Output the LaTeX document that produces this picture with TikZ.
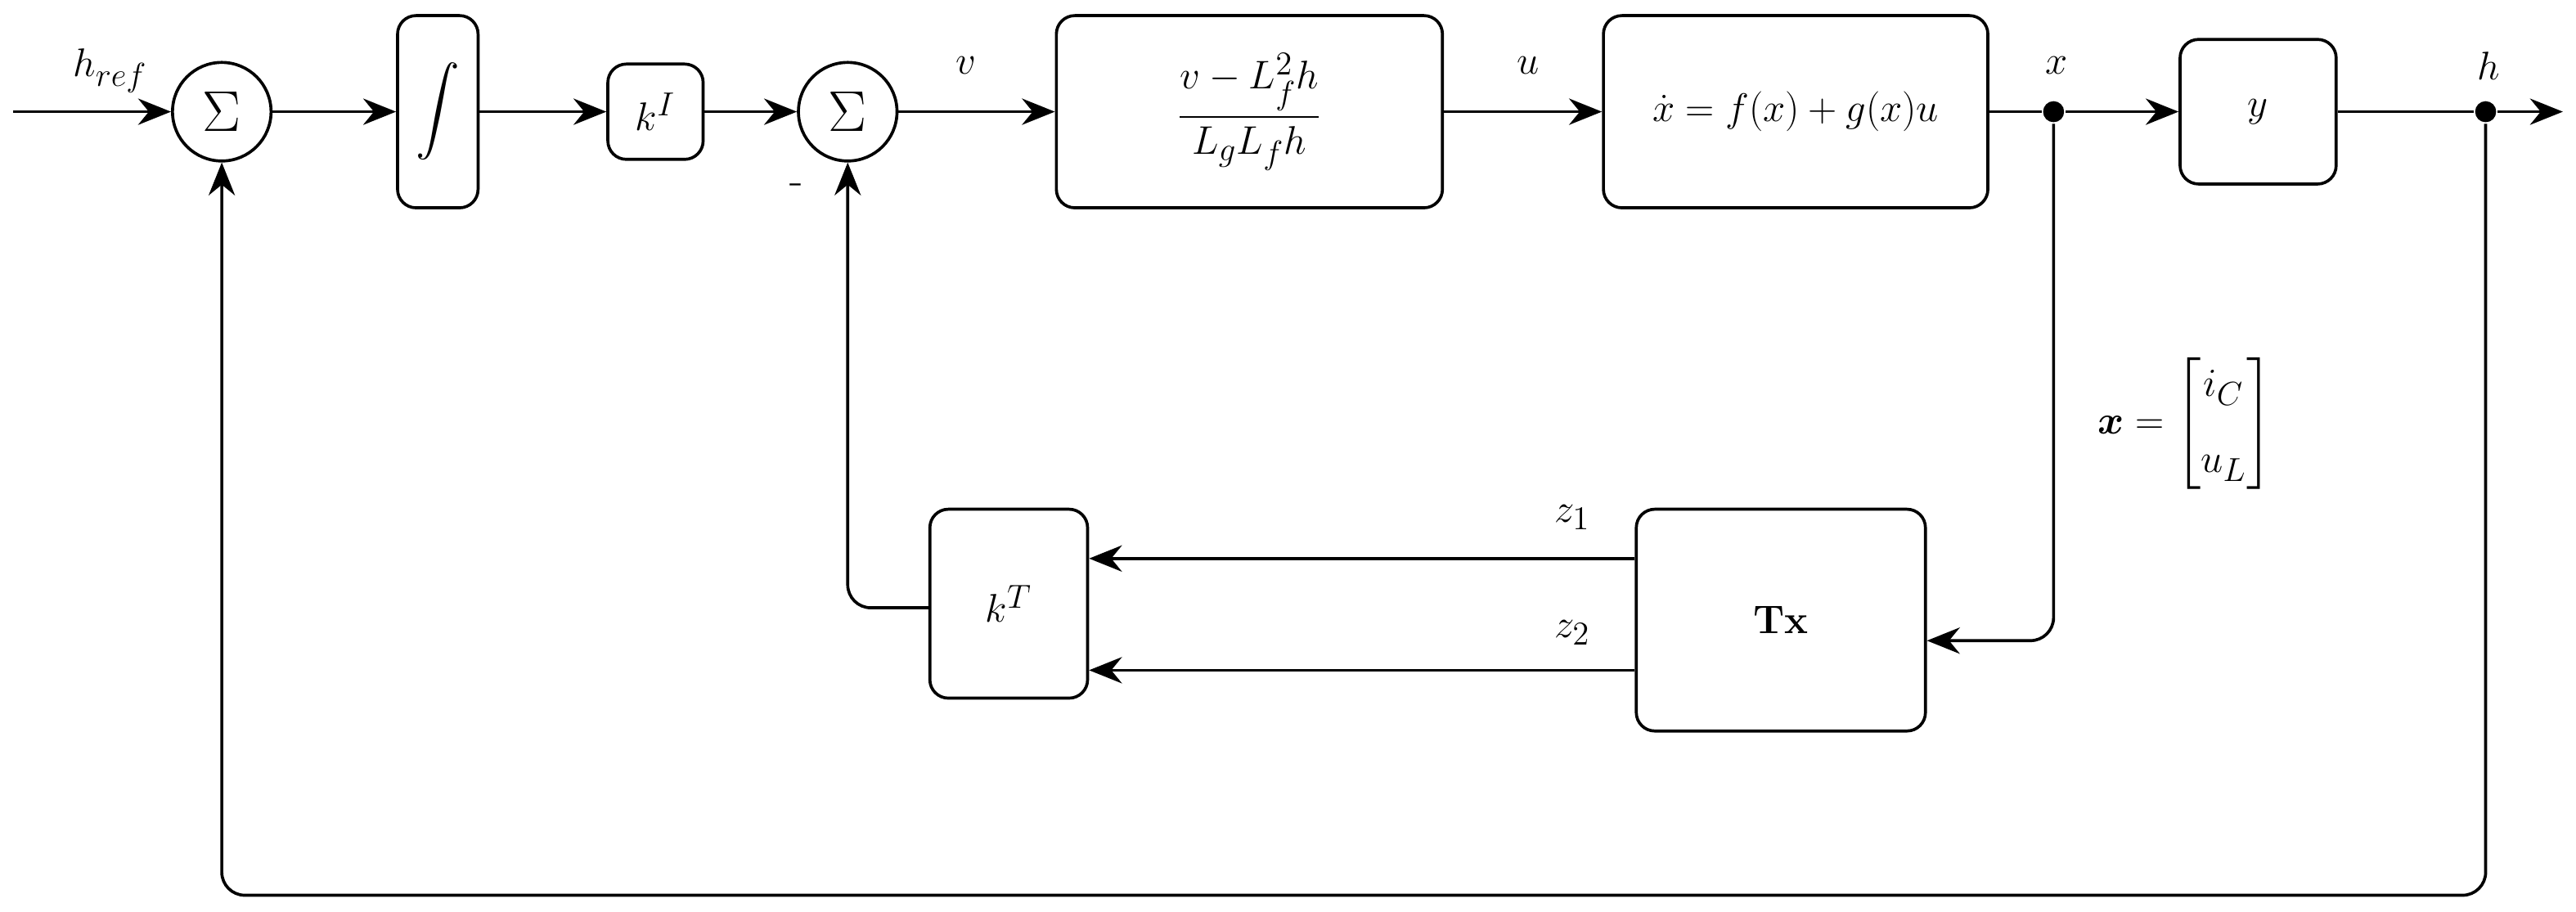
\documentclass[tikz,border=0pt]{standalone}
\usepackage{amsmath,amssymb,bm}
\usetikzlibrary{arrows.meta}
\begin{document}
\begin{tikzpicture}[x=0.25mm,y=-0.25mm,
  every node/.style={font=\fontsize{19}{23}\selectfont},
  line width=1.3pt,
  blk/.style={draw,rounded corners=8pt,inner sep=0pt},
  sum/.style={draw,circle,minimum size=15mm,inner sep=0pt,font=\fontsize{24}{28}\selectfont},
  arr/.style={-{Stealth[length=5mm,width=4mm]}},
  dot/.style={circle,fill,inner sep=0pt,minimum size=3.2mm}]
\useasboundingbox (0,0) rectangle (1568,555);
\coordinate (in) at (8,68);
\node[sum] (s1) at (135,68) {$\Sigma$};
\node[blk,minimum width=12.25mm,minimum height=29.25mm] (int) at (266.5,68) {$\displaystyle\int$};
\node[blk,minimum width=14.5mm,minimum height=14.5mm] (kI) at (399,68) {$k^I$};
\node[sum] (s2) at (516,68) {$\Sigma$};
\node[blk,minimum width=58.75mm,minimum height=29.25mm] (b1) at (760.5,68) {$\dfrac{v-L_f^2h}{L_gL_fh}$};
\node[blk,minimum width=58.5mm,minimum height=29.25mm] (b2) at (1093,68) {$\dot{x}=f(x)+g(x)u$};
\node[dot] (dx) at (1250,68) {};
\node[blk,minimum width=23.75mm,minimum height=22mm] (yb) at (1374.5,68) {$y$};
\node[dot] (dh) at (1513,68) {};
\coordinate (out) at (1560,68);
\node[blk,minimum width=44mm,minimum height=33.75mm] (tx) at (1084,377.5) {$\mathbf{Tx}$};
\node[blk,minimum width=24mm,minimum height=28.75mm] (kt) at (614,367.5) {$k^T$};
\node at (67,43) {$h_{ref}$};
\node at (588,40) {$v$};
\node at (930,40) {$u$};
\node at (1252,40) {$x$};
\node at (1515,40) {$h$};
\node at (485,115) {-};
\node at (957,315) {$z_1$};
\node at (957,385) {$z_2$};
\node at (1330,258) {$\bm{x}=\begin{bmatrix} i_C\\[10pt] u_L\end{bmatrix}$};
\draw[arr] (in) -- (s1);
\draw[arr] (s1) -- (int);
\draw[arr] (int) -- (kI);
\draw[arr] (kI) -- (s2);
\draw[arr] (s2) -- (b1);
\draw[arr] (b1) -- (b2);
\draw (b2) -- (dx);
\draw[arr] (dx) -- (yb);
\draw (yb) -- (dh);
\draw[arr] (dh) -- (out);
\draw[arr,rounded corners=10pt] (dh) -- (1513,545) -- (135,545) -- (s1.south);
\draw[arr,rounded corners=10pt] (dx) -- (1250,390) -- (tx.east|-0,390);
\draw[arr] (tx.west|-0,340) -- (kt.east|-0,340);
\draw[arr] (tx.west|-0,408) -- (kt.east|-0,408);
\draw[arr,rounded corners=10pt] (kt.west|-0,370) -- (516,370) -- (s2.south);
\end{tikzpicture}
\end{document}
